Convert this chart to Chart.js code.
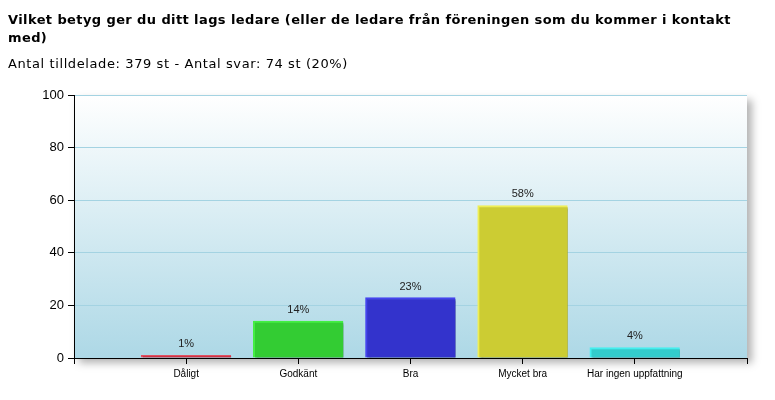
<!DOCTYPE html>
<html lang="sv">
<head>
<meta charset="UTF-8">
<title>Vilket betyg ger du ditt lags ledare</title>
<script src="https://cdn.jsdelivr.net/npm/chart.js"></script>
<style>
  body { margin: 0; background: #fff; }
  #wrap { position: relative; width: 775px; height: 400px; }
  #title { position: absolute; left: 8px; top: 11px; font: bold 13px "DejaVu Sans", sans-serif; letter-spacing: 0.4px; line-height: 18px; color: #000; white-space: nowrap; }
  #sub { position: absolute; left: 8px; top: 56px; font: 13px "DejaVu Sans", sans-serif; letter-spacing: 0.6px; color: #000; white-space: nowrap; }
  canvas { position: absolute; left: 0; top: 0; }
</style>
<script>
  // data
  const categories = ['Dåligt', 'Godkänt', 'Bra', 'Mycket bra', 'Har ingen uppfattning'];
  const values = [1, 14, 23, 58, 4];
  const yTicks = [0, 20, 40, 60, 80, 100];

  const fillColors = ['#cc3344', '#33cc33', '#3333cc', '#cccc33', '#33cccc'];
  const edgeColors = ['#e05060', '#44ee44', '#4444ee', '#eeee55', '#44eeee'];

  // plot area with gradient and soft shadow
  const plotBg = {
    id: 'plotBg',
    beforeDraw(chart) {
      const { ctx, chartArea: a } = chart;
      ctx.save();
      ctx.shadowColor = 'rgba(0,0,0,0.3)';
      ctx.shadowBlur = 8;
      ctx.shadowOffsetX = 5;
      ctx.shadowOffsetY = 5;
      const g = ctx.createLinearGradient(0, a.top, 0, a.bottom);
      g.addColorStop(0, '#ffffff');
      g.addColorStop(1, '#add8e6');
      ctx.fillStyle = g;
      ctx.fillRect(a.left, a.top, a.right - a.left, a.bottom - a.top);
      ctx.restore();
    }
  };

  // shadow under the bars
  const barShadow = {
    id: 'barShadow',
    beforeDatasetsDraw(chart) {
      const ctx = chart.ctx;
      ctx.save();
      ctx.shadowColor = 'rgba(0,0,0,0.45)';
      ctx.shadowBlur = 2;
      ctx.shadowOffsetX = 3;
      ctx.shadowOffsetY = 3;
    },
    afterDatasetsDraw(chart) {
      chart.ctx.restore();
    }
  };

  // "58%" labels above bars
  const valueLabels = {
    id: 'valueLabels',
    afterDatasetsDraw(chart) {
      const ctx = chart.ctx;
      const meta = chart.getDatasetMeta(0);
      const data = chart.data.datasets[0].data;
      ctx.save();
      ctx.font = '11px "Liberation Sans", Arial, sans-serif';
      ctx.fillStyle = '#222';
      ctx.textAlign = 'center';
      ctx.textBaseline = 'alphabetic';
      meta.data.forEach((bar, i) => {
        if (data[i] == null) return;
        ctx.fillText(data[i] + '%', bar.x, bar.y - 8);
      });
      ctx.restore();
    }
  };

  function draw() {
    const ctx = document.getElementById('chart').getContext('2d');
    new Chart(ctx, {
      type: 'bar',
      data: {
        // empty slots at both ends so categories sit on the tick marks
        labels: [''].concat(categories, ['']),
        datasets: [{
          data: [null].concat(values, [null]),
          backgroundColor: [''].concat(fillColors, ['']),
          borderColor: [''].concat(edgeColors, ['']),
          borderWidth: { top: 2, left: 2, right: 0, bottom: 0 },
          borderSkipped: false,
          barThickness: 90
        }]
      },
      options: {
        responsive: false,
        animation: false,
        events: [],
        layout: { padding: { left: 0, top: 95, right: 28, bottom: 0 } },
        plugins: { legend: { display: false }, tooltip: { enabled: false } },
        scales: {
          x: {
            offset: false,
            grid: { offset: false, drawOnChartArea: false, color: '#000', tickLength: 6, tickColor: '#000' },
            border: { color: '#000', width: 1 },
            ticks: {
              autoSkip: false,
              maxRotation: 0,
              padding: 4,
              color: '#000',
              font: { family: '"Liberation Sans", Arial, sans-serif', size: 10 }
            },
            afterFit(s) { s.height = 42; }
          },
          y: {
            min: 0,
            max: 100,
            afterBuildTicks(s) { s.ticks = yTicks.map(v => ({ value: v })); },
            grid: { color: '#a4d3e2', tickColor: '#000', tickLength: 6 },
            border: { color: '#000', width: 1 },
            ticks: {
              padding: 4,
              color: '#000',
              font: { family: '"Liberation Sans", Arial, sans-serif', size: 13 }
            },
            afterFit(s) { s.width = 74; }
          }
        }
      },
      plugins: [plotBg, barShadow, valueLabels]
    });
  }
  window.onload = draw;
</script>
</head>
<body>
<div id="wrap">
  <canvas id="chart" width="775" height="400"></canvas>
  <div id="title">Vilket betyg ger du ditt lags ledare (eller de ledare från föreningen som du kommer i kontakt<br>med)</div>
  <div id="sub">Antal tilldelade: 379 st - Antal svar: 74 st (20%)</div>
</div>
</body>
</html>
